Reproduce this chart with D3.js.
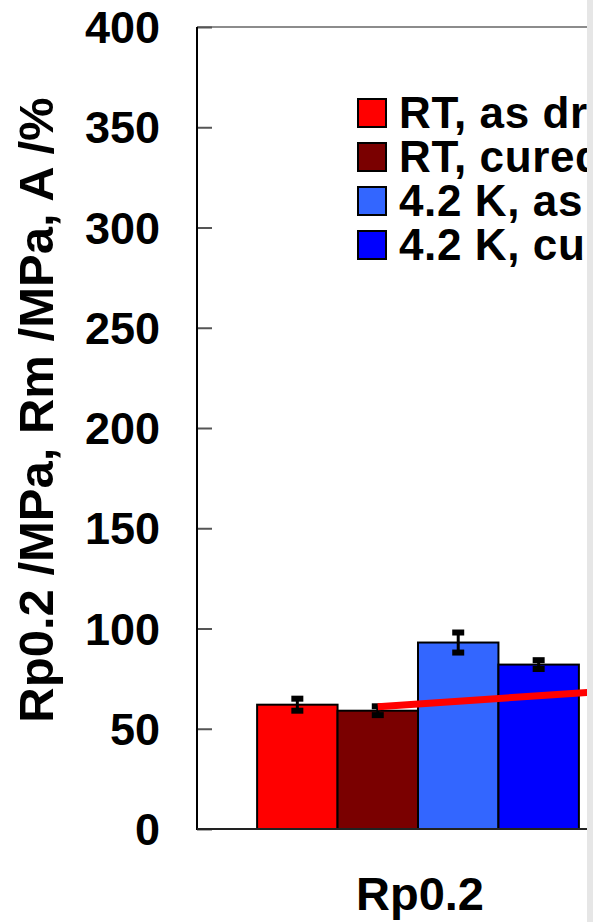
<!DOCTYPE html>
<html>
<head>
<meta charset="utf-8">
<script src="https://cdn.jsdelivr.net/npm/d3@7"></script>
<style>
  html, body { margin: 0; padding: 0; background: #e6e6e6; }
  svg { display: block; background: #fff; }
  text { font-family: "Liberation Sans", Arial, sans-serif; font-weight: bold; fill: #000; }
</style>
</head>
<body>
<script>
// Tensile properties of the epoxy, grouped by property
const categories = ["Rp0.2", "Rm", "A"];
const seriesNames = ["RT, as drawn", "RT, cured", "4.2 K, as drawn", "4.2 K, cured"];
const seriesColors = ["#ff0000", "#7a0000", "#3366ff", "#0000ff"];
// Rp0.2 values (MPa) and their spread
const rp02Values = [62, 59, 93, 82];
const rp02Errors = [3, 2.2, 5, 2.2];
// trend line through the RT, cured results
const trendCategories = ["Rp0.2", "Rm"];
const trendValues = [61, 76];
const yTicks = [0, 50, 100, 150, 200, 250, 300, 350, 400];

const W = 587, H = 922;
const plot = { left: 197, top: 27, bottom: 829, step: 442 };

const svg = d3.select("body").append("svg").attr("width", W).attr("height", H);

const y = d3.scaleLinear().domain([0, 400]).range([plot.bottom, plot.top]);
const x = d3.scaleBand().domain(categories)
  .range([plot.left, plot.left + plot.step * categories.length]).padding(0);
const xs = d3.scaleBand().domain(seriesNames)
  .range([x.bandwidth() * 0.136, x.bandwidth() * 0.864]).padding(0);
const bw = xs.bandwidth();

svg.append("defs").append("clipPath").attr("id", "plotClip")
  .append("rect").attr("x", plot.left).attr("y", plot.top)
  .attr("width", W - plot.left).attr("height", plot.bottom - plot.top);

// top frame
svg.append("line").attr("x1", plot.left).attr("x2", W)
  .attr("y1", plot.top).attr("y2", plot.top)
  .attr("stroke", "#8c8c8c").attr("stroke-width", 2);

// y axis with inward ticks
const yAxis = d3.axisRight(y).tickValues(yTicks).tickSize(15).tickFormat("");
const gy = svg.append("g").attr("transform", `translate(${plot.left},0)`).call(yAxis);
gy.select(".domain").remove();
gy.selectAll(".tick line").attr("stroke", "#555").attr("stroke-width", 2);

svg.append("g").selectAll("text").data(yTicks).join("text")
  .attr("x", 160).attr("y", d => y(d) + 16)
  .attr("text-anchor", "end").attr("font-size", 45).text(d => d);

// bars
const gBars = svg.append("g").attr("clip-path", "url(#plotClip)");
const rp = seriesNames.map((s, i) => ({ s, i, v: rp02Values[i], e: rp02Errors[i] }));
gBars.selectAll("rect").data(rp).join("rect")
  .attr("x", d => x("Rp0.2") + xs(d.s))
  .attr("y", d => y(d.v))
  .attr("width", bw)
  .attr("height", d => y(0) - y(d.v))
  .attr("fill", d => seriesColors[d.i])
  .attr("stroke", "#000").attr("stroke-width", 2);

// error bars
const gErr = svg.append("g");
rp.forEach(d => {
  const cx = x("Rp0.2") + xs(d.s) + bw / 2;
  gErr.append("line").attr("x1", cx).attr("x2", cx)
    .attr("y1", y(d.v + d.e)).attr("y2", y(d.v - d.e))
    .attr("stroke", "#000").attr("stroke-width", 3);
  [d.v + d.e, d.v - d.e].forEach(v => {
    gErr.append("line").attr("x1", cx - 6).attr("x2", cx + 6)
      .attr("y1", y(v)).attr("y2", y(v))
      .attr("stroke", "#000").attr("stroke-width", 6);
  });
});

// axes lines
svg.append("line").attr("x1", plot.left).attr("x2", plot.left)
  .attr("y1", plot.top).attr("y2", plot.bottom + 1)
  .attr("stroke", "#000").attr("stroke-width", 2);
svg.append("line").attr("x1", plot.left).attr("x2", W)
  .attr("y1", plot.bottom).attr("y2", plot.bottom)
  .attr("stroke", "#222").attr("stroke-width", 2);

// trend line
const trendPts = trendCategories.map((c, i) => [x(c) + xs("RT, cured") + bw / 2, y(trendValues[i])]);
svg.append("path").attr("clip-path", "url(#plotClip)")
  .attr("d", d3.line()(trendPts))
  .attr("fill", "none").attr("stroke", "#ff0000").attr("stroke-width", 7);

// category labels
svg.append("g").selectAll("text").data(categories).join("text")
  .attr("x", d => x(d) + x.bandwidth() / 2 + 2)
  .attr("y", 910).attr("text-anchor", "middle").attr("font-size", 47)
  .text(d => d);

// y title
svg.append("text")
  .attr("transform", "translate(53,410) rotate(-90)")
  .attr("text-anchor", "middle").attr("font-size", 49)
  .text("Rp0.2 /MPa, Rm /MPa, A /%");

// legend
const lg = svg.append("g");
seriesNames.forEach((s, i) => {
  const yy = 99 + i * 44;
  lg.append("rect").attr("x", 358).attr("y", yy).attr("width", 28).attr("height", 28)
    .attr("fill", seriesColors[i]).attr("stroke", "#000").attr("stroke-width", 2);
  lg.append("text").attr("x", 399).attr("y", yy + 29).attr("font-size", 44)
    .attr("letter-spacing", 0.6).text(s);
});
</script>
</body>
</html>
